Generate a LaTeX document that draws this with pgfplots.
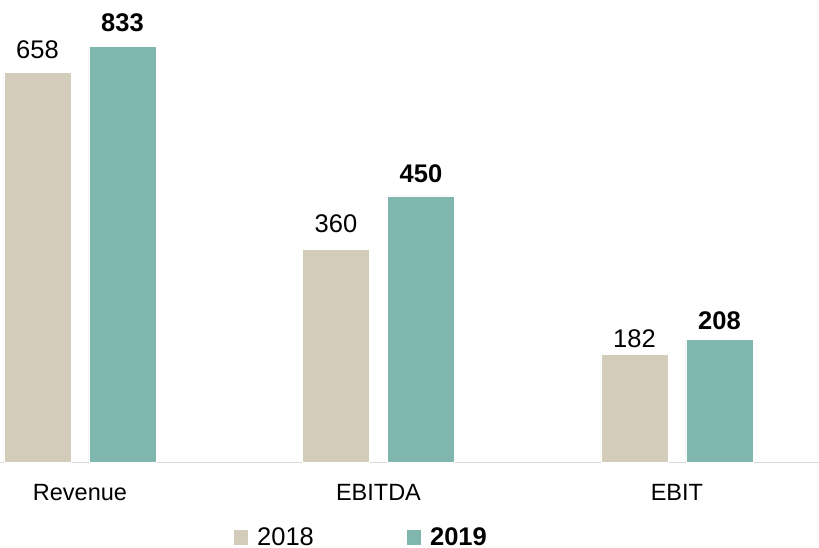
\documentclass[border=0pt]{standalone}
\usepackage{fontspec}
\setmainfont{Liberation Sans}
\usepackage{pgfplots}
\usepackage{pgfplotstable}
\pgfplotsset{compat=1.18}
\definecolor{c18}{HTML}{D3CCBB}
\definecolor{c19}{HTML}{7FB7AE}
\definecolor{baseln}{HTML}{D9D9D9}
\pgfplotstableread{
x y label shift
0 658 658 14.2
1 360 360 17
2 182 182 6.7
}\tA
\pgfplotstableread{
x y label shift
0 702 833 15
1 450 450 13
2 208 208 9.3
}\tB
\begin{document}
\begin{tikzpicture}
\useasboundingbox (0,0) rectangle (819bp,548bp);
\begin{axis}[
  at={(0,85.5bp)}, anchor=south west,
  scale only axis, width=819bp, height=462.5bp,
  xmin=-0.268, xmax=2.476, ymin=0, ymax=780.6,
  axis y line=none,
  axis x line=bottom,
  x axis line style={-, draw=baseln, line width=1.5bp},
  xtick={0,1,2}, xticklabels={Revenue,EBITDA,EBIT},
  major tick length=0pt,
  xticklabel style={anchor=base, yshift=-37.5bp, inner sep=0pt, font=\fontsize{23.5bp}{28bp}\selectfont},
  clip=false,
  legend columns=2,
  legend image code/.code={\fill[#1] (0bp,-8bp) rectangle (15bp,8bp);},
  legend style={draw=none, fill=none, inner sep=0pt, outer sep=0pt,
    at={(axis description cs:0.2845,-0.161)}, anchor=west,
    nodes={inner sep=0pt, font=\fontsize{25.5bp}{30bp}\selectfont},
    /tikz/every odd column/.append style={column sep=8.7bp},
    /tikz/every even column/.append style={column sep=92bp}},
]
\addplot[ybar, bar width=67bp, bar shift=-42.5bp, fill=c18, draw=white, line width=0.5bp,
  nodes near coords, point meta=explicit symbolic,
  visualization depends on={\thisrow{shift} \as \myshift},
  every node near coord/.append style={anchor=base, xshift=-42.5bp, yshift=\myshift bp, inner sep=0pt, text=black,
    font=\fontsize{25.5bp}{30bp}\selectfont}]
  table[x=x, y=y, meta=label] {\tA};
\addlegendentry{2018}
\addplot[ybar, bar width=67bp, bar shift=42.5bp, fill=c19, draw=white, line width=0.5bp,
  nodes near coords, point meta=explicit symbolic,
  visualization depends on={\thisrow{shift} \as \myshift},
  every node near coord/.append style={anchor=base, xshift=42.5bp, yshift=\myshift bp, inner sep=0pt, text=black,
    font=\fontsize{25.5bp}{30bp}\selectfont\bfseries}]
  table[x=x, y=y, meta=label] {\tB};
\addlegendentry{\textbf{2019}}
\end{axis}
\end{tikzpicture}
\end{document}
